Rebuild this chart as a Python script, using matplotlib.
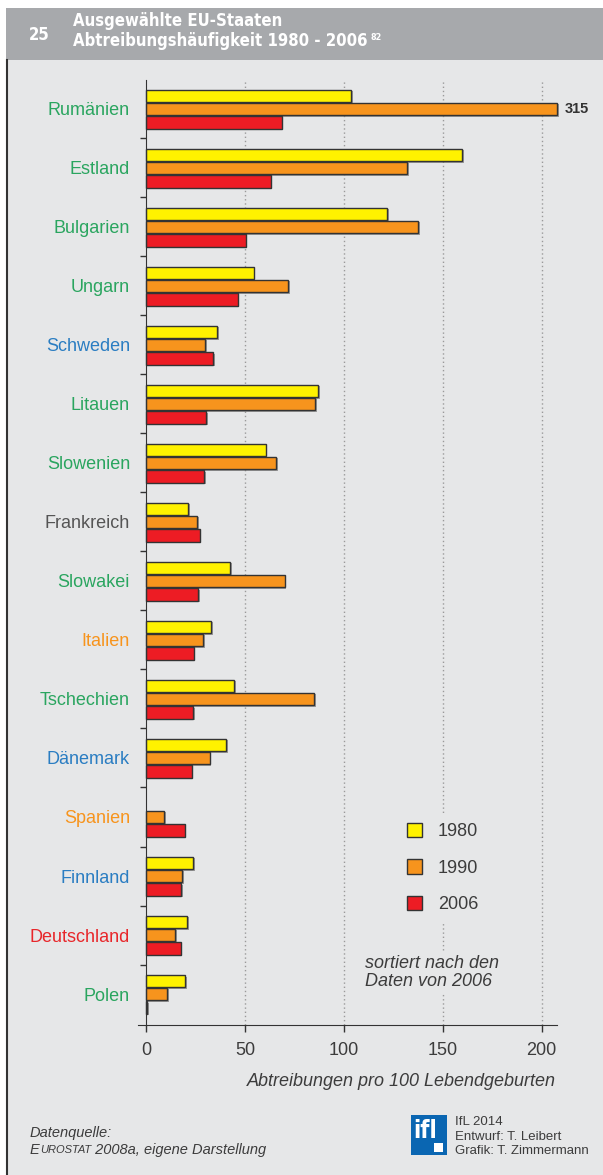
import matplotlib
matplotlib.use("Agg")
import matplotlib.pyplot as plt
import matplotlib.patheffects as pe
from matplotlib.patches import Patch, Rectangle
from matplotlib.lines import Line2D

# data, sorted by 2006
countries = ["Rumänien", "Estland", "Bulgarien", "Ungarn", "Schweden", "Litauen",
             "Slowenien", "Frankreich", "Slowakei", "Italien", "Tschechien",
             "Dänemark", "Spanien", "Finnland", "Deutschland", "Polen"]
label_colors = ["#2aa55f", "#2aa55f", "#2aa55f", "#2aa55f", "#2a7dc2", "#2aa55f",
                "#2aa55f", "#555555", "#2aa55f", "#f7941d", "#2aa55f",
                "#2a7dc2", "#f7941d", "#2a7dc2", "#e8262a", "#2aa55f"]
v1980 = [103.5, 160.0, 121.7, 54.4, 35.9, 87.1, 60.5, 21.2, 42.6, 33.0, 44.7,
         40.6, None, 23.8, 20.7, 19.7]
v1990 = [315.0, 131.8, 137.5, 71.8, 30.0, 85.6, 65.9, 25.8, 70.1, 29.0, 85.1,
         32.2, 9.1, 18.4, 14.8, 10.8]
v2006 = [68.6, 63.0, 50.4, 46.3, 33.9, 30.5, 29.5, 27.1, 26.3, 24.1, 23.9,
         23.1, 19.5, 17.9, 17.5, 0.7]
years = ["1980", "1990", "2006"]
bar_colors = ["#fff200", "#f7941d", "#ed1c24"]
xticks = [0, 50, 100, 150, 200]
cap = 208  # longer bars are cut here and get their value written next to them

W, H = 603, 1175
panel = "#e6e7e8"
dark = "#333333"
txt = "#3c3c3c"
plt.rcParams["font.family"] = ["Liberation Sans", "DejaVu Sans"]

fig = plt.figure(figsize=(W / 100, H / 100), dpi=100)


def fx(px):
    return px / W


def fy(py):
    return 1 - py / H


# background panel, header band, left border (behind the axes)
fig.patches.append(Rectangle((fx(7), 0), 1 - fx(7), fy(60), transform=fig.transFigure,
                             facecolor=panel, edgecolor="none", zorder=-3))
fig.patches.append(Rectangle((fx(6), fy(60)), 1 - fx(6), fy(8) - fy(60),
                             transform=fig.transFigure, facecolor="#a7a9ac",
                             edgecolor="none", zorder=-3))
fig.lines.append(Line2D([fx(7), fx(7)], [0, fy(60)], transform=fig.transFigure,
                        color=dark, lw=1.5, zorder=-2))

head = dict(family="DejaVu Sans", fontstretch="condensed", fontweight="bold",
            color="white", va="center")
fig.text(fx(29), fy(35), "25", fontsize=12, **head)
fig.text(fx(73), fy(21), "Ausgewählte EU-Staaten", fontsize=12, **head)
t2 = fig.text(fx(73), fy(41), "Abtreibungshäufigkeit 1980 - 2006", fontsize=12, **head)

# main axes: 0 at x=146 px, 200 at x=541.6 px
px_per = (541.6 - 146) / 200
xmin, xmax = -4, 212
ax = fig.add_axes([fx(146 + xmin * px_per), fy(1025),
                   (xmax - xmin) * px_per / W, (1025 - 80) / H])
ax.set_facecolor("none")
ax.set_xlim(xmin, xmax)
ax.set_ylim(15.525, -0.49)

for x in xticks[1:]:
    ax.axvline(x, color="#9a9a9a", lw=1, ls=(0, (1, 2)), zorder=0)

ypos = range(len(countries))
offsets = [-0.22, 0.0, 0.225]
shadow = [pe.SimplePatchShadow(offset=(1.3, -1.3), shadow_rgbFace="#666666", alpha=0.6),
          pe.Normal()]
for vals, col, off in zip([v1980, v1990, v2006], bar_colors, offsets):
    ys = [y + off for y, v in zip(ypos, vals) if v is not None]
    ws = [min(v, cap) for v in vals if v is not None]
    bars = ax.barh(ys, ws, height=0.215, color=col, edgecolor=dark, lw=1.0, zorder=2)
    for b in bars:
        b.set_path_effects(shadow)
    for y, v in zip(ys, [v for v in vals if v is not None]):
        if v > cap:
            ax.text(cap + 3.5, y, f"{v:.0f}", fontsize=10.5, fontweight="bold",
                    color=dark, va="center", ha="left")

# axes lines and ticks
for s in ["top", "right"]:
    ax.spines[s].set_visible(False)
ax.spines["left"].set_position(("data", 0))
ax.spines["left"].set_color(dark)
ax.spines["bottom"].set_color(dark)
ax.spines["bottom"].set_bounds(xmin, cap)
ax.set_xticks(xticks)
ax.set_xticklabels([str(v) for v in xticks])
ax.tick_params(axis="x", direction="out", length=5, width=1, color=dark, pad=7,
               labelsize=13, labelcolor=txt)
ax.set_yticks(list(ypos))
ax.set_yticklabels(countries)
for lab, c in zip(ax.get_yticklabels(), label_colors):
    lab.set_color(c)
ax.tick_params(axis="y", which="major", length=0, pad=11.5, labelsize=13)
ax.set_yticks([i + 0.5 for i in range(len(countries) - 1)], minor=True)
ax.tick_params(axis="y", which="minor", direction="out", length=4.5, width=1, color=dark)

fig.text(fx(556), fy(1081), "Abtreibungen pro 100 Lebendgeburten", fontsize=13,
         style="italic", color=txt, ha="right", va="center")

# legend
handles = [Patch(facecolor=c, edgecolor=dark, lw=1.0) for c in bar_colors]
ax.legend(handles, years, loc="upper left", bbox_to_anchor=(fx(398), fy(814)),
          bbox_transform=fig.transFigure, frameon=True, facecolor=panel,
          edgecolor="none", framealpha=1, fontsize=13, labelcolor=txt,
          handlelength=0.85, handleheight=0.85, labelspacing=1.05,
          handletextpad=0.85, borderpad=0.5, borderaxespad=0)

fig.text(fx(365), fy(955), "sortiert nach den\nDaten von 2006", fontsize=13,
         style="italic", color=txt, ha="left", va="top", linespacing=1.1,
         bbox=dict(facecolor=panel, edgecolor="none", pad=3))

# footer
fig.text(fx(30), fy(1133), "Datenquelle:", fontsize=10.5, style="italic", color=txt,
         va="center")
e1 = fig.text(fx(30), fy(1150), "E", fontsize=10.5, style="italic", color=txt,
              va="center")
fig.canvas.draw()
r = fig.canvas.get_renderer()
bb = e1.get_window_extent(r)
e2 = fig.text(bb.x1 / W, fy(1150), "UROSTAT", fontsize=8, style="italic",
              color=txt, va="center")
bb = e2.get_window_extent(r)
fig.text(bb.x1 / W, fy(1150), " 2008a, eigene Darstellung", fontsize=10.5,
         style="italic", color=txt, va="center")

fig.patches.append(Rectangle((fx(411), fy(1155)), fx(447) - fx(411), fy(1115) - fy(1155),
                             transform=fig.transFigure, facecolor="#0a66b2",
                             edgecolor="none", zorder=1))
fig.text(fx(413), fy(1131), "ifl", color="white", fontsize=17, fontweight="bold",
         family="DejaVu Sans", fontstretch="condensed", va="center", zorder=2)
fig.patches.append(Rectangle((fx(434), fy(1152)), fx(443) - fx(434), fy(1143) - fy(1152),
                             transform=fig.transFigure, facecolor="white",
                             edgecolor="none", zorder=2))
for i, s in enumerate(["IfL 2014", "Entwurf: T. Leibert", "Grafik: T. Zimmermann"]):
    fig.text(fx(455), fy(1122 + 14.5 * i), s, fontsize=9.5, color=txt, va="center")

# small superscript after title
bb = t2.get_window_extent(r)
fig.text(bb.x1 / W + fx(3), fy(37), "82", fontsize=6.5, **head)

fig.savefig("out.png", dpi=100)
